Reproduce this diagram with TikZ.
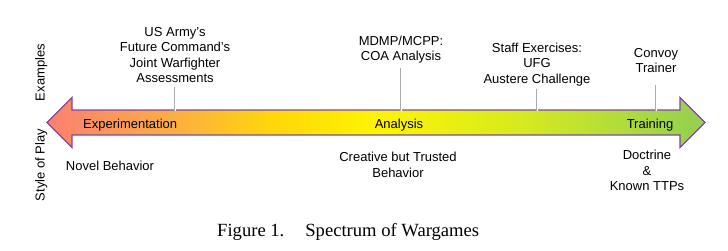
\documentclass[tikz,border=0pt]{standalone}
\usepackage{fontspec}
\setmainfont{Liberation Sans}
\newfontfamily\capfont{Liberation Serif}
\usepackage{xcolor}
\usepackage{tikz}
\usetikzlibrary{positioning, calc}
\definecolor{mysalmon}{RGB}{250,128,114}
\definecolor{myorange}{RGB}{251,176,64}
\definecolor{mygold}{RGB}{255,214,10}
\definecolor{myyellow}{RGB}{255,244,0}
\definecolor{mylime}{RGB}{214,234,32}
\definecolor{mygreen}{RGB}{146,208,80}
\definecolor{mypurple}{RGB}{128,72,160}
\pgfdeclarehorizontalshading{spectrum}{100bp}{color(0bp)=(mysalmon); color(25bp)=(mysalmon); color(35bp)=(myorange); color(42bp)=(mygold); color(50bp)=(myyellow); color(61bp)=(mylime); color(75bp)=(mygreen); color(100bp)=(mygreen)}
\tikzstyle{tick} = [draw=gray!65, line width=0.5bp, double=white, double distance=1bp]
\tikzstyle{band} = [shading=spectrum, draw=mypurple, line width=1.2bp, line join=miter]

\begin{document}
\begin{tikzpicture}[x=1bp, y=-1bp, label/.style={align=center, inner sep=2bp, font=\fontsize{13bp}{15.5bp}\selectfont}, side/.style={rotate=90, anchor=base, inner sep=0pt, font=\fontsize{13bp}{15.5bp}\selectfont}]
    \useasboundingbox (0,0) rectangle (728,250);
    % the double arrow
    \shadedraw[band] (47,122.5) -- (72,97.5) -- (72,110) -- (680,110) -- (680,97.5) -- (705,122.5) -- (680,147.5) -- (680,135) -- (72,135) -- (72,147.5) -- cycle;
    \coordinate (bodytop) at (376,110.6);
    % style of play inside the arrow
    \node[label, anchor=base west, inner sep=0pt] (exp) at (83,128) {Experimentation};
    \node[label, anchor=base, inner sep=0pt] (ana) at (399,128) {Analysis};
    \node[label, anchor=base, inner sep=0pt] (tra) at (650,128) {Training};
    % examples above
    \node[label] (army) at (175,55) {US Army's\\ Future Command's\\ Joint Warfighter\\ Assessments};
    \node[label] (mdmp) at (401,49.5) {MDMP/MCPP:\\ COA Analysis};
    \node[label] (staff) at (537,64.5) {Staff Exercises:\\ UFG\\ Austere Challenge};
    \node[label] (convoy) at (656,60.5) {Convoy\\ Trainer};
    \draw[tick] ([yshift=-2bp]army.south) -- (army.south |- bodytop);
    \draw[tick] ([yshift=-2bp]mdmp.south) -- (mdmp.south |- bodytop);
    \draw[tick] ([yshift=-1bp]staff.south) -- (staff.south |- bodytop);
    \draw[tick] ([yshift=-10bp]convoy.south) -- (convoy.south |- bodytop);
    % behaviours below
    \node[label] (novel) at (110,166) {Novel Behavior};
    \node[label] (trusted) at (398,165) {Creative but Trusted\\ Behavior};
    \node[label] (doctrine) at (647,170.5) {Doctrine\\ \&\\ Known TTPs};
    % row titles
    \node[side] (examples) at (44.5,72.5) {Examples};
    \node[side] (style) at (44.5,165) {Style of Play};
    % caption
    \node[anchor=base west, inner sep=0pt, font=\capfont\fontsize{18.6bp}{22bp}\selectfont] (caption) at (217,236.5) {Figure 1.\hspace{21bp}Spectrum of Wargames};
\end{tikzpicture}
\end{document}
